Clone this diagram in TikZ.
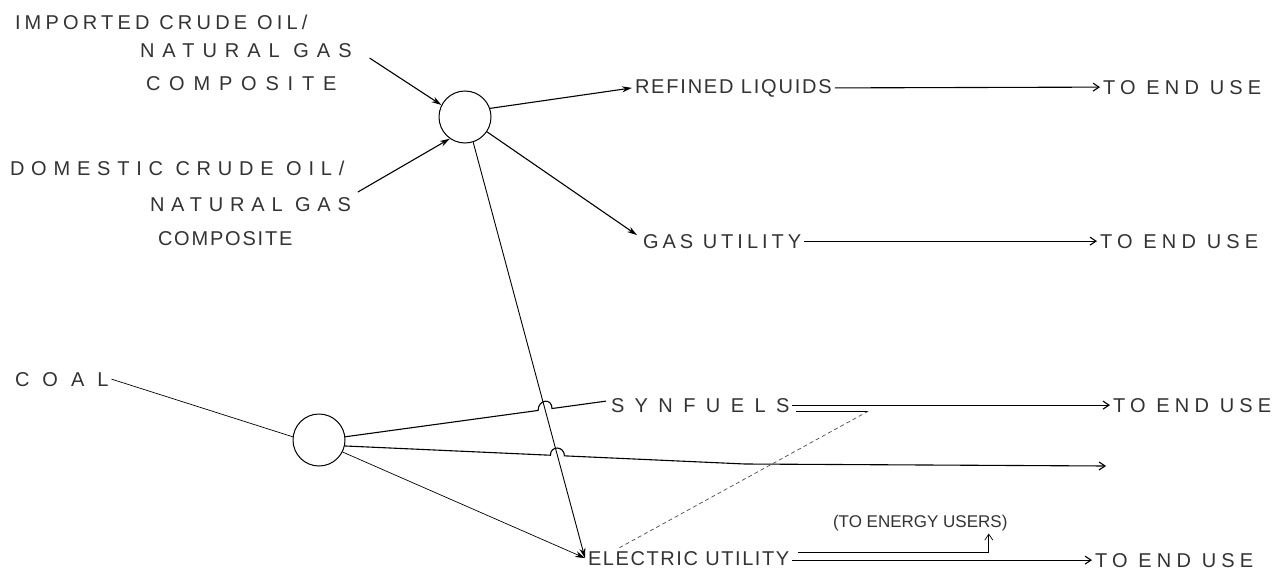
\documentclass[tikz,border=0pt]{standalone}
\usepackage{fontspec}
\setmainfont{Liberation Sans}
\usetikzlibrary{arrows.meta,calc}
\newcommand{\ls}[2]{{\addfontfeature{LetterSpace=#1}#2}}
\tikzset{
  lbl/.style={anchor=base west, inner sep=0pt, outer sep=3pt, text=black!80,
              font=\fontsize{20}{22}\selectfont},
  hub/.style={circle, draw=black, line width=1pt, minimum size=52pt, inner sep=0pt},
  flow/.style={draw=black, line width=1.1pt},
  fine/.style={draw=black, line width=0.7pt},
  tip/.style={-{Stealth[length=10pt,width=6pt]}},
  barb/.style={-{Straight Barb[length=6pt,width=8pt]}},
}
\begin{document}
\begin{tikzpicture}[x=1pt,y=-1pt]
\fill[white] (0,0) rectangle (1273,578);
\useasboundingbox (0,0) rectangle (1273,578);

% mixing points
\node[hub] (oilhub) at (465,117) {};
\node[hub] (coalhub) at (319,440) {};

% source labels
\node[lbl] (imp1) at (12,30) {\ls{21}{IMPORTED CRUDE OIL/}};
\node[lbl] (imp2) at (137,58) {\ls{40}{NATURAL GAS}};
\node[lbl] (imp3) at (143,90) {\ls{44}{COMPOSITE}};
\node[lbl] (dom1) at (7,175) {\ls{34}{DOMESTIC CRUDE OIL/}};
\node[lbl] (dom2) at (147,211) {\ls{34}{NATURAL GAS}};
\node[lbl] (dom3) at (155,245) {\ls{9}{COMPOSITE}};
\node[lbl] (coal) at (12,386) {\ls{65}{COAL}};

% product labels
\node[lbl] (refined) at (632,93) {\ls{9}{REFINED LIQUIDS}};
\node[lbl] (gas) at (640,248) {\ls{20}{GAS UTILITY}};
\node[lbl] (syn) at (608,412) {\ls{52}{SYNFUELS}};
\node[lbl] (elec) at (585,565) {\ls{8}{ELECTRIC UTILITY}};

% end-use labels
\node[lbl] (end1) at (1100,94) {\ls{26}{TO END USE}};
\node[lbl] (end2) at (1097,248) {\ls{26}{TO END USE}};
\node[lbl] (end3) at (1110,412) {\ls{26}{TO END USE}};
\node[lbl] (end4) at (1092,567) {\ls{26}{TO END USE}};
\node[lbl, font=\fontsize{17}{19}\selectfont] (paren) at (830,527) {(TO ENERGY USERS)};

% inputs to the oil/gas hub
\draw[flow, tip] ($(imp2.east)+(15,7)$) -- (oilhub.153);
\draw[flow, tip] ($(dom2.north east)+(4,-2)$) -- (oilhub.235);

% oil/gas hub outputs
\draw[flow, tip] (oilhub.19) -- (refined.west);
\draw[flow, tip] (oilhub.-34) -- ($(gas.west)+(-3,-6)$);
\coordinate (lt) at (oilhub.-72);
\coordinate (lb) at (elec.west);
\draw[fine, line width=0.9pt, tip] (lt) -- (lb);

% coal into its hub
\draw[fine] (coal.east) -- (coalhub.173);

% coal hub to synfuels, hopping over the long line
\coordinate (s0) at (coalhub.7);
\coordinate (s1) at ($(syn.west)+(-2,-4)$);
\coordinate (x1) at (intersection of lt--lb and s0--s1);
\draw[flow] (s0) -- ($(x1)!7pt!(s0)$)
  .. controls +(0,-11) and +(0,-11) .. ($(x1)!7pt!(s1)$) -- (s1);

% coal hub straight on to the right, hopping over the long line
\coordinate (m0) at (coalhub.-13);
\coordinate (mbend) at (745,464);
\coordinate (mend) at (1106,466);
\coordinate (x2) at (intersection of lt--lb and m0--mbend);
\draw[flow, barb] (m0) -- ($(x2)!7pt!(m0)$)
  .. controls +(0,-10) and +(0,-10) .. ($(x2)!7pt!(mbend)$) -- (mbend) -- (mend);

% coal hub to electric utility
\draw[fine, tip] (coalhub.-27) -- (elec.west);

% product lines to end use
\draw[flow, barb] (refined.east) -- (end1.west);
\draw[flow, barb] (gas.east) -- (end2.west);
\draw[flow, barb] (syn.east) -- (end3.west);
\coordinate (synbar) at ($(syn.east)+(76,6)$);
\draw[flow] ($(syn.east)+(4,6)$) -- (synbar);
\coordinate (edash) at ($(elec.north west)+(32,1)$);
\draw[fine, black!70, dash pattern=on 4pt off 3pt] (synbar) -- (edash);
\draw[flow, barb] ($(elec.east)+(0,2)$) -- (end4.west);
\coordinate (pup) at ($(paren.south west)!0.88!(paren.south east)$);
\draw[fine, barb] ($(elec.east)+(6,-6)$) -| (pup);
\end{tikzpicture}
\end{document}
